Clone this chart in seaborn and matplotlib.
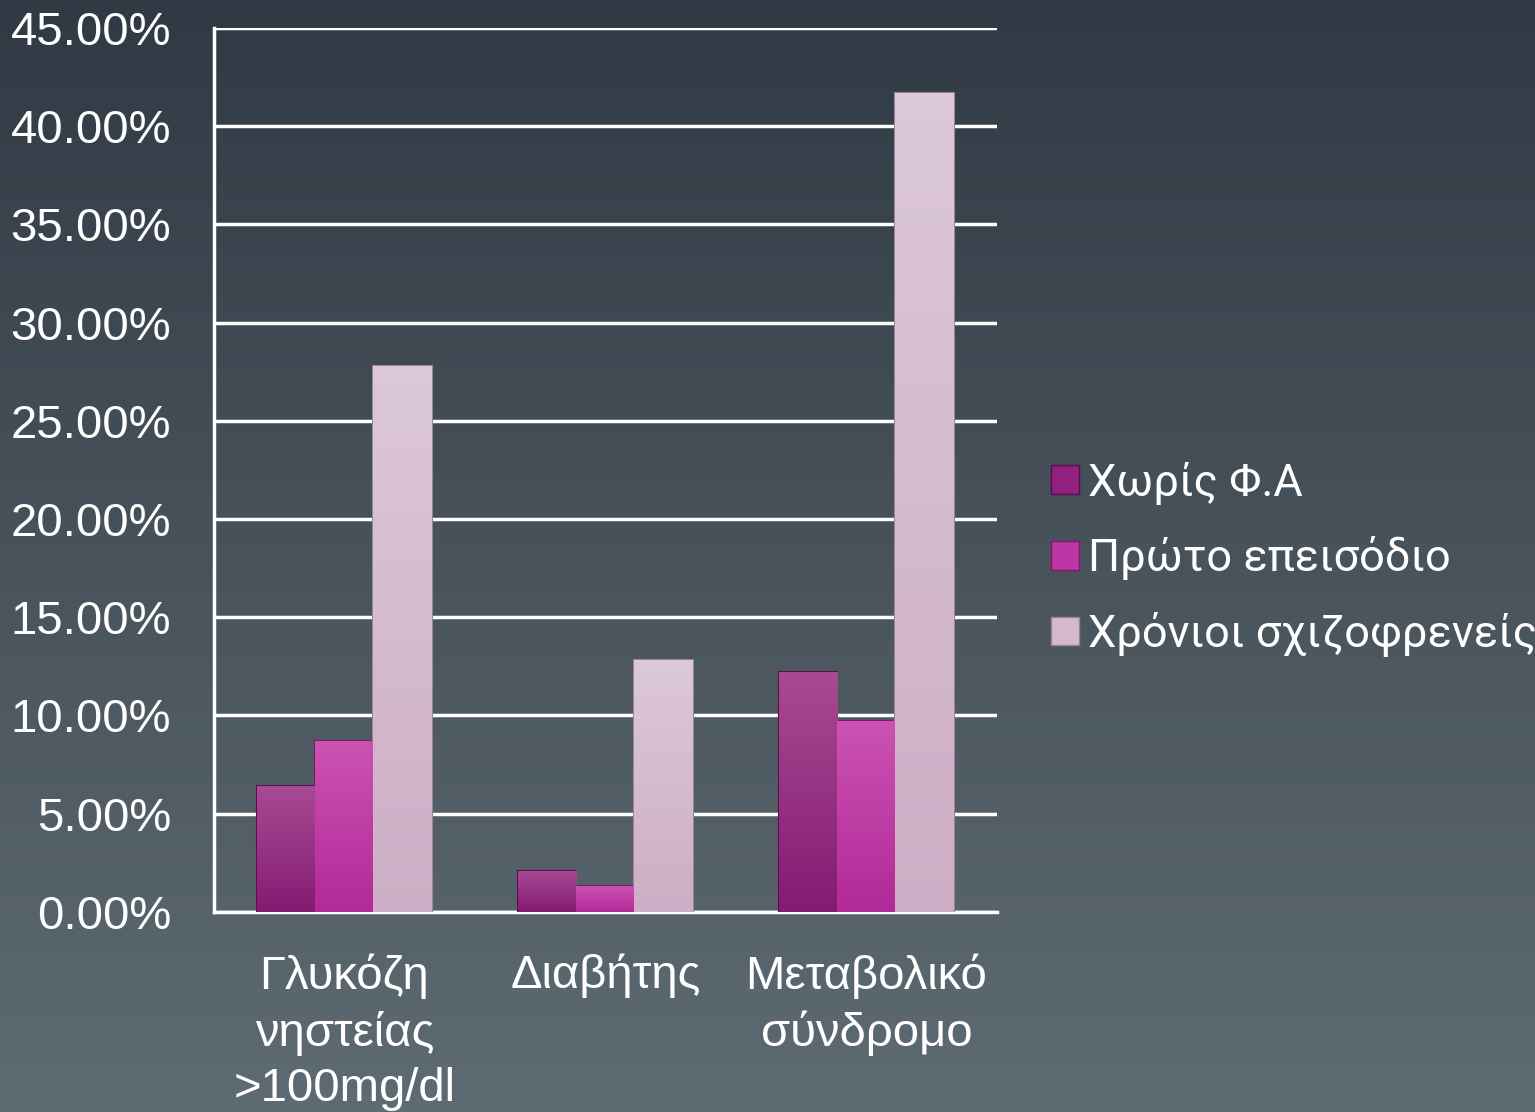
import seaborn as sns
import matplotlib.pyplot as plt
import numpy as np
import pandas as pd
from matplotlib.colors import LinearSegmentedColormap

# categories and series
categories = ["Γλυκόζη\nνηστείας\n>100mg/dl", "Διαβήτης", "Μεταβολικό\nσύνδρομο"]
series = ["Χωρίς Φ.Α", "Πρώτο επεισόδιο", "Χρόνιοι σχιζοφρενείς"]
no_fa = [6.4, 2.1, 12.2]
first_ep = [8.7, 1.3, 9.7]
chronic = [27.8, 12.8, 41.7]
yticks = [0, 5, 10, 15, 20, 25, 30, 35, 40, 45]

df = pd.DataFrame({
    "cat": categories * 3,
    "grp": [series[0]] * 3 + [series[1]] * 3 + [series[2]] * 3,
    "val": no_fa + first_ep + chronic,
})

base = ["#931f80", "#bd35a5", "#d5bacf"]
tops = ["#a84a93", "#cb52b2", "#dcc8d8"]
bots = ["#841b72", "#b22a98", "#cdaec6"]
edges = ["#5a0f4c", "#7c1a6a", "#9a8494"]

sns.set_theme(style="white")
plt.rcParams["font.family"] = ["Liberation Sans", "DejaVu Sans"]

fig = plt.figure(figsize=(15.35, 11.12), dpi=100)

# background gradient
bg = fig.add_axes([0, 0, 1, 1], zorder=-10)
grad = np.linspace(0, 1, 256).reshape(-1, 1)
bg_cmap = LinearSegmentedColormap.from_list("bg", ["#303a44", "#5f6b73"])
bg.imshow(grad, aspect="auto", cmap=bg_cmap, extent=[0, 1, 0, 1], origin="upper")
bg.axis("off")

ax = fig.add_axes([0.1394, 0.1799, 0.5101, 0.795])
ax.set_facecolor("none")

sns.barplot(data=df, x="cat", y="val", hue="grp", hue_order=series,
            palette=base, width=0.667, gap=0, ax=ax, legend=True, zorder=3)

# gradient fill on each bar
for i, cont in enumerate(ax.containers):
    cmap = LinearSegmentedColormap.from_list("b%d" % i, [bots[i], tops[i]])
    for p in cont.patches:
        p.set_edgecolor(edges[i])
        p.set_linewidth(1.5)
        x0, y0 = p.get_x(), p.get_y()
        w, h = p.get_width(), p.get_height()
        im = ax.imshow(np.linspace(0, 1, 100).reshape(-1, 1), cmap=cmap, origin="lower",
                       extent=[x0, x0 + w, y0, y0 + h], aspect="auto", zorder=3.5)
        im.set_clip_path(p)

ax.set_xlim(-0.5, 2.5)
ax.set_ylim(0, 45)
ax.set_yticks(yticks)
ax.set_yticklabels(["%.2f%%" % v for v in yticks])
ax.yaxis.grid(True, color="white", linewidth=2.5, zorder=1)
ax.set_axisbelow(True)
for s in ["top", "right"]:
    ax.spines[s].set_visible(False)
for s in ["left", "bottom"]:
    ax.spines[s].set_color("white")
    ax.spines[s].set_linewidth(2.5)
ax.tick_params(axis="y", length=0, pad=31, labelsize=34, labelcolor="white")
ax.tick_params(axis="x", length=0, pad=30, labelsize=34, labelcolor="white")
for t in ax.get_xticklabels():
    t.set_linespacing(1.33)
ax.set_xlabel("")
ax.set_ylabel("")

leg = ax.legend(loc="center left", bbox_to_anchor=(0.685, 0.497), bbox_transform=fig.transFigure,
                frameon=False, handlelength=0.6, handleheight=0.6, handletextpad=0.2,
                borderaxespad=0, borderpad=0,
                labelspacing=0.7, prop={"family": ["Roboto", "DejaVu Sans"], "size": 32.5})
for t in leg.get_texts():
    t.set_color("white")
for h, c, e in zip(leg.legend_handles, base, edges):
    h.set_facecolor(c)
    h.set_edgecolor(e)

fig.savefig("out.png", dpi=100)
